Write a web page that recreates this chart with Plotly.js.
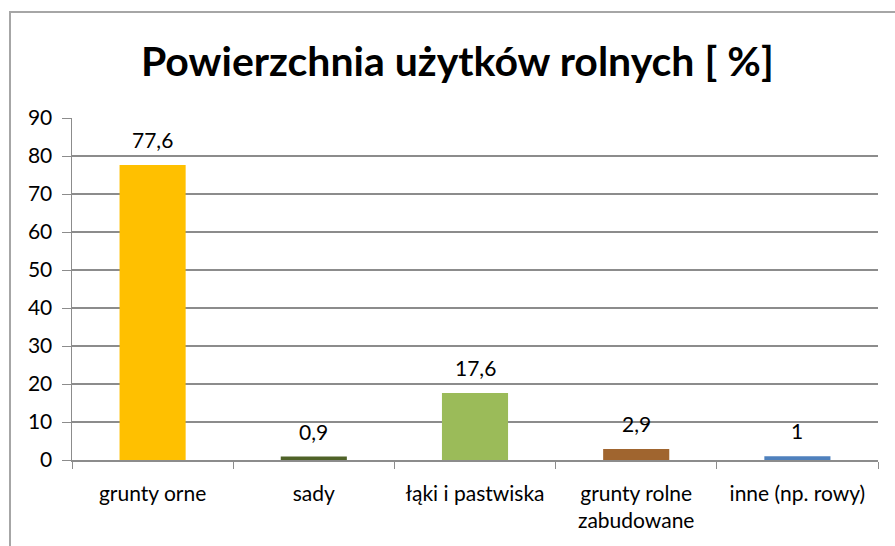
<!DOCTYPE html>
<html><head><meta charset="utf-8">
<script src="https://cdn.plot.ly/plotly-3.0.1.min.js"></script>
<style>
html,body{margin:0;padding:0;background:#fff;}
#wrap{position:relative;width:895px;height:546px;overflow:hidden;}
#chart{width:895px;height:546px;}
#frame{position:absolute;left:9px;top:11px;width:950px;height:600px;border-top:2px solid #a6a6a6;border-left:2px solid #a6a6a6;pointer-events:none;}
</style></head>
<body><div id="wrap"><div id="chart"></div><div id="frame"></div></div>
<script>
const categories = ["grunty orne", "sady", "łąki i pastwiska", "grunty rolne<br>zabudowane", "inne (np. rowy)"];
const values = [77.6, 0.9, 17.6, 2.9, 1];
const barColors = ["#FFC000", "#4F6228", "#9BBB59", "#A0652F", "#4F81BD"];
const yTicks = [0,10,20,30,40,50,60,70,80,90];
const titleText = "Powierzchnia użytków rolnych [ %]";
const FONT = "Lato, 'Open Sans', sans-serif";

const trace = {
  type: "bar", x: categories, y: values,
  marker: {color: barColors},
  hoverinfo: "none"
};
const annotations = categories.map((c, i) => ({
  x: c, y: values[i], xref: "x", yref: "y",
  text: String(values[i]).replace(".", ","),
  showarrow: false, yanchor: "bottom", yshift: 11,
  font: {family: FONT, size: 21, color: "#000"}
}));
const layout = {
  width: 895, height: 546,
  margin: {l: 72, r: 17, t: 118, b: 86},
  paper_bgcolor: "#fff", plot_bgcolor: "#fff",
  bargap: 0.59,
  showlegend: false,
  title: {text: "<b>" + titleText + "</b>", x: 0.511, xanchor: "center", y: 0.888, yanchor: "middle",
          font: {family: FONT, size: 41, color: "#000"}},
  xaxis: {type: "category", showgrid: false, showline: true, linecolor: "#8c8c8c", linewidth: 1.5,
          ticks: "outside", tickson: "boundaries", ticklen: 7, tickcolor: "#8c8c8c",
          tickfont: {family: FONT, size: 21, color: "#000"}, ticklabelstandoff: 14, fixedrange: true},
  yaxis: {range: [0, 90], tickvals: yTicks, showgrid: true, gridcolor: "#8c8c8c", gridwidth: 1.5,
          showline: true, linecolor: "#8c8c8c", linewidth: 1.5, ticks: "outside", ticklen: 9, tickcolor: "#8c8c8c",
          zeroline: false, tickfont: {family: FONT, size: 21, color: "#000"}, ticklabelstandoff: 5},
  annotations: annotations
};
Plotly.newPlot("chart", [trace], layout, {staticPlot: true, displayModeBar: false});
</script></body></html>
